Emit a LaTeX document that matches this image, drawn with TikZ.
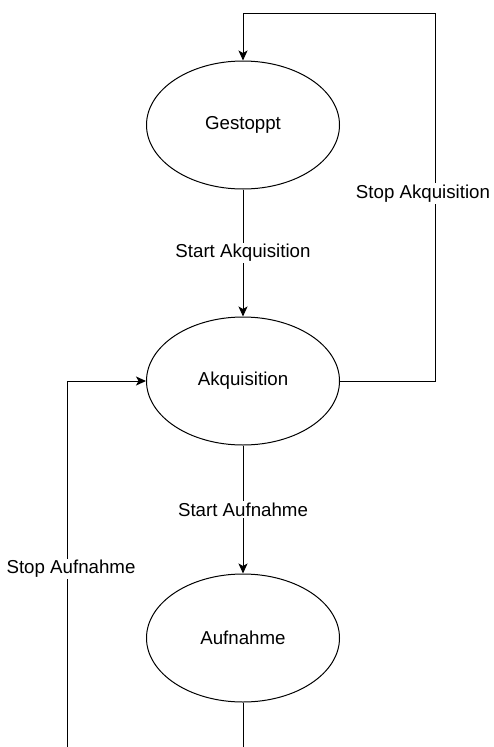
\documentclass[tikz,border=0pt]{standalone}
\usepackage{fontspec}
\setmainfont{Liberation Sans}
\usetikzlibrary{positioning, arrows.meta, shapes.geometric}

\tikzset{
    zustand/.style={draw, ellipse, minimum width=193pt, minimum height=128pt, inner sep=0pt},
    pfeil/.style={-{Stealth[length=10pt, width=9pt, inset=2.5pt]}},
    beschriftung/.style={fill=white, inner sep=1.5pt}
}

\begin{document}
\begin{tikzpicture}[x=1pt, y=-1pt, line width=1pt, font=\fontsize{18.7}{22}\selectfont]
        \useasboundingbox (0,0) rectangle (493,747);
        % States
        \node[zustand] (gestoppt) at (243,125) {Gestoppt};
        \node[zustand] (akquisition) at (243,381) {Akquisition};
        \node[zustand] (aufnahme) at (243,638) {Aufnahme};
        % Corner and open ends
        \coordinate (obenrechts) at (435,13);
        \coordinate (untenmitte) at (243,747);
        \coordinate (untenlinks) at (67,747);
        % Transitions
        \draw[pfeil] (gestoppt) -- node[beschriftung] {Start Akquisition} (akquisition);
        \draw[pfeil] (akquisition) -- node[beschriftung] {Start Aufnahme} (aufnahme);
        \draw[pfeil] (akquisition.east) -| node[pos=0.755, beschriftung, xshift=-12pt] {Stop Akquisition} (obenrechts) -| (gestoppt.north);
        \draw[pfeil] (untenlinks) |- node[pos=0.243, beschriftung, xshift=4pt] {Stop Aufnahme} (akquisition.west);
        \draw (aufnahme) -- (untenmitte);
    \end{tikzpicture}
\end{document}
